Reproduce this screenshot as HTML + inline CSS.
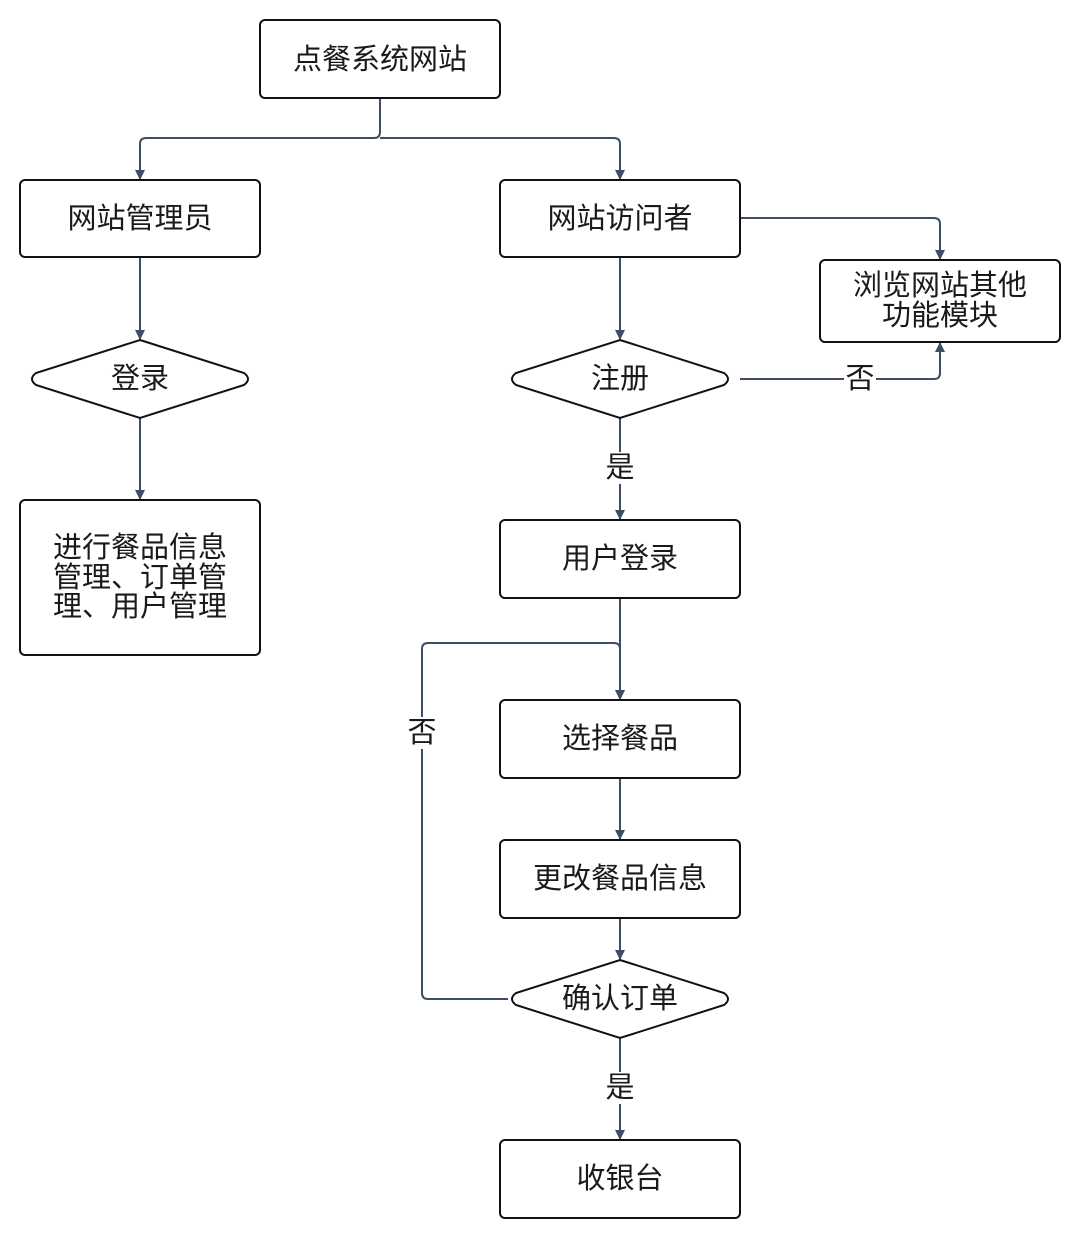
<!DOCTYPE html>
<html><head><meta charset="utf-8"><style>
html,body{margin:0;padding:0;background:#fff;}
svg{display:block;}
text{font-family:"Liberation Sans","Noto Sans CJK SC",sans-serif;font-size:29px;fill:#1a1a1a;text-anchor:middle;dominant-baseline:central;}
.b{fill:#fff;stroke:#111;stroke-width:2;}
.l{fill:none;stroke:#3d4d63;stroke-width:2;}
</style></head><body>
<svg width="1079" height="1238" viewBox="0 0 1079 1238" xmlns="http://www.w3.org/2000/svg">
<defs><marker id="a" markerWidth="10" markerHeight="10" refX="9" refY="5" orient="auto" markerUnits="userSpaceOnUse"><path d="M0,0 L10,5 L0,10 z" fill="#3d4d63"/></marker></defs>
<path class="l" d="M380,98 V132 Q380,138 374,138 H146 Q140,138 140,144 V179" marker-end="url(#a)"/>
<path class="l" d="M380,138 H614 Q620,138 620,144 V179" marker-end="url(#a)"/>
<path class="l" d="M140,257 V339" marker-end="url(#a)"/>
<path class="l" d="M140,418 V499" marker-end="url(#a)"/>
<path class="l" d="M620,257 V339" marker-end="url(#a)"/>
<path class="l" d="M740,218 H934 Q940,218 940,224 V259" marker-end="url(#a)"/>
<path class="l" d="M740,379 H934 Q940,379 940,373 V343" marker-end="url(#a)"/>
<path class="l" d="M620,418 V519" marker-end="url(#a)"/>
<path class="l" d="M620,598 V699" marker-end="url(#a)"/>
<path class="l" d="M508,999 H428 Q422,999 422,993 V649 Q422,643 428,643 H614 Q620,643 620,649 V699" marker-end="url(#a)"/>
<path class="l" d="M620,778 V839" marker-end="url(#a)"/>
<path class="l" d="M620,918 V959" marker-end="url(#a)"/>
<path class="l" d="M620,1038 V1139" marker-end="url(#a)"/>
<rect x="844" y="363" width="32" height="32" fill="#fff"/><text x="860" y="379">否</text>
<rect x="604" y="452" width="32" height="32" fill="#fff"/><text x="620" y="468">是</text>
<rect x="406" y="717" width="32" height="32" fill="#fff"/><text x="422" y="733">否</text>
<rect x="604" y="1072" width="32" height="32" fill="#fff"/><text x="620" y="1088">是</text>
<rect class="b" x="260" y="20" width="240" height="78" rx="5"/><text x="380" y="60">点餐系统网站</text>
<rect class="b" x="20" y="180" width="240" height="77" rx="5"/><text x="140" y="219">网站管理员</text>
<rect class="b" x="500" y="180" width="240" height="77" rx="5"/><text x="620" y="219">网站访问者</text>
<rect class="b" x="820" y="260" width="240" height="82" rx="5"/><text x="940" y="286">浏览网站其他</text><text x="940" y="316">功能模块</text>
<path class="b" d="M140,340 L244,373 Q252,379 244,385 L140,418 L36,385 Q28,379 36,373 Z"/><text x="140" y="379">登录</text>
<path class="b" d="M620,340 L724,373 Q732,379 724,385 L620,418 L516,385 Q508,379 516,373 Z"/><text x="620" y="379">注册</text>
<rect class="b" x="20" y="500" width="240" height="155" rx="5"/><text x="140" y="548">进行餐品信息</text><text x="140" y="578">管理、订单管</text><text x="140" y="607">理、用户管理</text>
<rect class="b" x="500" y="520" width="240" height="78" rx="5"/><text x="620" y="559">用户登录</text>
<rect class="b" x="500" y="700" width="240" height="78" rx="5"/><text x="620" y="739">选择餐品</text>
<rect class="b" x="500" y="840" width="240" height="78" rx="5"/><text x="620" y="879">更改餐品信息</text>
<path class="b" d="M620,960 L724,993 Q732,999 724,1005 L620,1038 L516,1005 Q508,999 516,993 Z"/><text x="620" y="999">确认订单</text>
<rect class="b" x="500" y="1140" width="240" height="78" rx="5"/><text x="620" y="1179">收银台</text>
</svg>
</body></html>
